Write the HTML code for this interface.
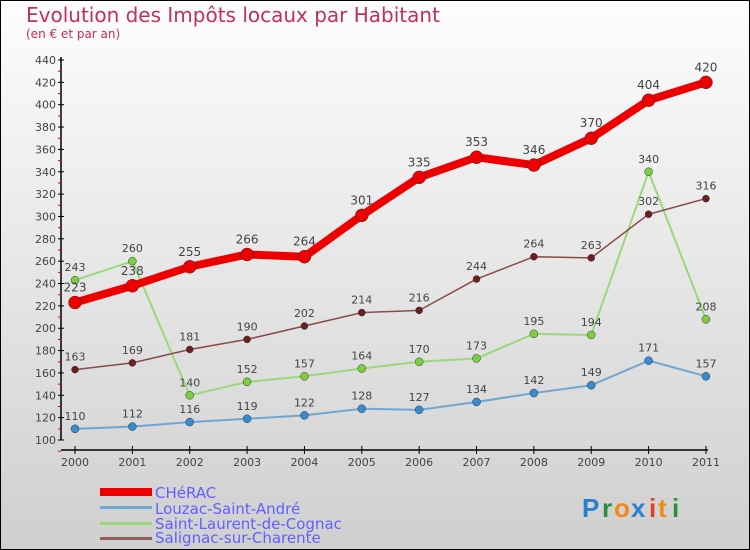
<!DOCTYPE html>
<html><head><meta charset="utf-8"><style>
body{margin:0}
svg{display:block;font-family:"DejaVu Sans","Liberation Sans",sans-serif}
</style></head><body>
<svg width="750" height="550" id="c">
<defs><linearGradient id="bg" x1="0" y1="0" x2="0" y2="1"><stop offset="0" stop-color="#fdfdfd"/><stop offset="1" stop-color="#cfcfcf"/></linearGradient></defs>
<rect x="0.5" y="0.5" width="749" height="549" fill="url(#bg)" stroke="#000"/>
<text x="26" y="22" font-size="20" fill="#c0305a">Evolution des Impôts locaux par Habitant</text>
<text x="26" y="38" font-size="12" fill="#c0305a">(en € et par an)</text>
<g id="axes"></g><g id="series"></g>
<g font-size="15" fill="#6060ff">
<rect x="70" y="488" width="35" height="8" fill="#ee0000"/>
<text x="155" y="498">CHéRAC</text>
<rect x="100" y="506" width="52" height="3" fill="#6fa6d3"/>
<text x="155" y="514">Louzac-Saint-André</text>
<rect x="100" y="522" width="52" height="3" fill="#9ad87a"/>
<text x="155" y="529">Saint-Laurent-de-Cognac</text>
<rect x="100" y="537" width="52" height="3" fill="#906060"/>
<text x="155" y="543">Salignac-sur-Charente</text>
</g>
<g font-size="26" font-family="Liberation Sans,sans-serif" font-weight="bold">
<text x="582" y="517" fill="#2a7fd0">P</text><text x="602" y="517" fill="#2a9040">r</text><text x="614" y="517" fill="#f08a1a">o</text><text x="631" y="517" fill="#2a7fd0">x</text><text x="649" y="517" fill="#e04020">i</text><text x="658" y="517" fill="#f08a1a">t</text><text x="672" y="517" fill="#2a9040">i</text>
</g>
<rect x="100" y="488" width="52" height="8" fill="#ee0000"/>
</svg>
<script>
const years=["2000","2001","2002","2003","2004","2005","2006","2007","2008","2009","2010","2011"];
const yTicks=[100,120,140,160,180,200,220,240,260,280,300,320,340,360,380,400,420,440];
const cherac=[223,238,255,266,264,301,335,353,346,370,404,420];
const louzac=[110,112,116,119,122,128,127,134,142,149,171,157];
const stLaurent=[243,260,140,152,157,164,170,173,195,194,340,208];
const salignac=[163,169,181,190,202,214,216,244,264,263,302,316];
const NS="http://www.w3.org/2000/svg";
const X=i=>75+i*57.36, Y=v=>440-(v-100)*380/340;
function mk(t,a,p){const e=document.createElementNS(NS,t);for(const k in a)e.setAttribute(k,a[k]);p.appendChild(e);return e;}
const ax=document.getElementById('axes'), sr=document.getElementById('series');
document.querySelector('rect[x="70"]').remove();
let yl=mk('line',{x1:61,y1:57,x2:61,y2:440,stroke:'#000','stroke-width':1.5},ax);

yTicks.forEach(v=>{const y=Y(v);mk('line',{x1:58,y1:y,x2:64,y2:y,stroke:'#000'},ax);
mk('line',{x1:58,y1:y+11.2,x2:61,y2:y+11.2,stroke:'#d00'},ax);
const t=mk('text',{x:56,y:y+4,'font-size':11,'text-anchor':'end',fill:'#444'},ax);t.textContent=v;
});
let xl=mk('line',{x1:61,y1:450,x2:708,y2:450,stroke:'#000','stroke-width':1.5},ax);

years.forEach((yr,i)=>{const x=X(i);mk('line',{x1:x,y1:446,x2:x,y2:454,stroke:'#000'},ax);
const t=mk('text',{x:x,y:466,'font-size':11,'text-anchor':'middle',fill:'#444'},ax);t.textContent=yr;
});
function series(d,name,col,dot,w,r,fs){const g=mk('g',{},sr);

mk('polyline',{points:d.map((v,i)=>X(i)+','+Y(v)).join(' '),fill:'none',stroke:col,'stroke-width':w,'stroke-linejoin':'round'},g);
d.forEach((v,i)=>{const c=mk('circle',{cx:X(i),cy:Y(v),r:r,fill:dot,stroke:'#333','stroke-width':0.5},g);

const t=mk('text',{x:X(i),y:Y(v)-9-(r>5?2:0),'font-size':fs,'text-anchor':'middle',fill:'#444'},g);t.textContent=v;
});}
series(louzac,'louzac','#6fa6d3','#3a8ad0',2,4,11);
series(stLaurent,'saint-laurent','#9ad87a','#7ccf40',2,4,11);
series(salignac,'salignac','#8a4a4a','#6a2020',1.5,3.5,11);
series(cherac,'cherac','#ee0000','#ee0000',8,6.5,12);
</script>
</body></html>
